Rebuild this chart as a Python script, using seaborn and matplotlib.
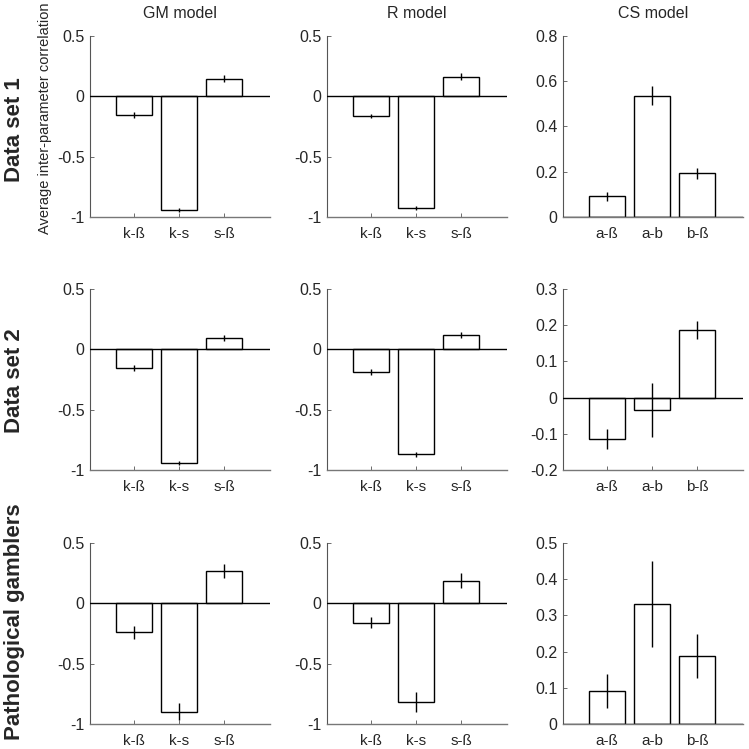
import matplotlib
matplotlib.use("Agg")
import matplotlib.pyplot as plt
import seaborn as sns
import pandas as pd

sns.set_style("white")
plt.rcParams['font.family'] = ['Liberation Sans', 'DejaVu Sans']
plt.rcParams['axes.unicode_minus'] = False

col_titles = ["GM model", "R model", "CS model"]
row_labels = ["Data set 1", "Data set 2", "Pathological gamblers"]
labels_kst = ["k-ß", "k-s", "s-ß"]
labels_ab = ["a-ß", "a-b", "b-ß"]

# Data set 1
gm1 = [-0.154, -0.942, 0.146]
gm1_err = [0.025, 0.02, 0.028]
r1 = [-0.163, -0.926, 0.163]
r1_err = [0.02, 0.015, 0.028]
cs1 = [0.092, 0.537, 0.193]
cs1_err = [0.02, 0.042, 0.023]
# Data set 2
gm2 = [-0.154, -0.94, 0.094]
gm2_err = [0.028, 0.015, 0.028]
r2 = [-0.19, -0.869, 0.116]
r2_err = [0.025, 0.02, 0.025]
cs2 = [-0.114, -0.034, 0.1875]
cs2_err = [0.028, 0.074, 0.025]
# Pathological gamblers
gm3 = [-0.24, -0.899, 0.27]
gm3_err = [0.055, 0.07, 0.06]
r3 = [-0.159, -0.817, 0.189]
r3_err = [0.045, 0.082, 0.06]
cs3 = [0.091, 0.331, 0.1875]
cs3_err = [0.046, 0.119, 0.061]

panels = [
    [(gm1, gm1_err, labels_kst), (r1, r1_err, labels_kst), (cs1, cs1_err, labels_ab)],
    [(gm2, gm2_err, labels_kst), (r2, r2_err, labels_kst), (cs2, cs2_err, labels_ab)],
    [(gm3, gm3_err, labels_kst), (r3, r3_err, labels_kst), (cs3, cs3_err, labels_ab)],
]
ylims = [
    [(-1, 0.5), (-1, 0.5), (0, 0.8)],
    [(-1, 0.5), (-1, 0.5), (-0.2, 0.3)],
    [(-1, 0.5), (-1, 0.5), (0, 0.5)],
]
yticks = [
    [[-1, -0.5, 0, 0.5], [-1, -0.5, 0, 0.5], [0, 0.2, 0.4, 0.6, 0.8]],
    [[-1, -0.5, 0, 0.5], [-1, -0.5, 0, 0.5], [-0.2, -0.1, 0, 0.1, 0.2, 0.3]],
    [[-1, -0.5, 0, 0.5], [-1, -0.5, 0, 0.5], [0, 0.1, 0.2, 0.3, 0.4, 0.5]],
]

def fmt(v):
    if abs(v) < 1e-9:
        return "0"
    return f"{v:g}"

W = 749
fig = plt.figure(figsize=(7.49, 7.49), dpi=100)
lefts = [90, 327, 563]
tops = [36, 289, 543]
aw, ah = 180, 181

for i in range(3):
    for j in range(3):
        vals, errs, labs = panels[i][j]
        ax = fig.add_axes([lefts[j] / W, 1 - (tops[i] + ah) / W, aw / W, ah / W])
        df = pd.DataFrame({"pair": labs, "corr": vals})
        sns.barplot(data=df, x="pair", y="corr", order=labs, ax=ax,
                    color="white", edgecolor="black", linewidth=1.0,
                    width=0.8, errorbar=None, saturation=1)
        ax.errorbar(range(3), vals, yerr=errs, fmt="none", ecolor="black",
                    elinewidth=1.0, capsize=0)
        ax.axhline(0, color="black", lw=1.0, zorder=5)
        ax.set_xlim(-0.98, 3.02)
        ax.set_ylim(*ylims[i][j])
        ax.set_yticks(yticks[i][j])
        ax.set_yticklabels([fmt(v) for v in yticks[i][j]])
        ax.set_xlabel("")
        ax.set_ylabel("")
        for s in ["top", "right"]:
            ax.spines[s].set_visible(False)
        ax.spines["left"].set_color("#555555")
        ax.spines["bottom"].set_color("#777777")
        ax.spines["left"].set_linewidth(0.8)
        ax.spines["bottom"].set_linewidth(1.0)
        ax.tick_params(axis="y", direction="in", length=3, width=0.6,
                       color="#555555", labelsize=11.5, pad=4, left=True)
        ax.tick_params(axis="x", direction="in", length=3, width=0.6,
                       color="#555555", labelsize=11, pad=7, bottom=True)
        if i == 0:
            ax.set_title(col_titles[j], fontsize=11.5, pad=13)

fig.text(45 / W, 1 - 118 / W, "Average inter-parameter correlation", rotation=90,
         ha="center", va="center", fontsize=10.5)

row_centers = [130, 381, 622]
for i in range(3):
    fig.text(15 / W, 1 - row_centers[i] / W, row_labels[i], rotation=90,
             ha="center", va="center", fontsize=16, fontweight="bold")

fig.savefig("out.png", dpi=100, facecolor="white")
